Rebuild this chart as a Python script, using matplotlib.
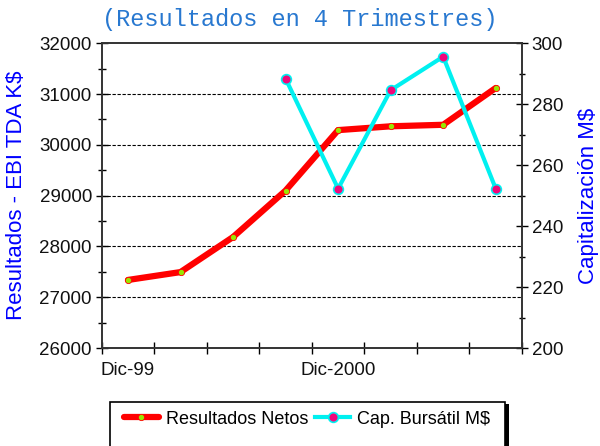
import numpy as np
import matplotlib
matplotlib.use("Agg")
import matplotlib.pyplot as plt
from matplotlib.patches import Rectangle
from matplotlib.ticker import MultipleLocator, FixedLocator, NullFormatter

periodos = ["Dic-99", "", "", "", "Dic-2000", "", "", ""]
resultados = [27340, 27495, 28185, 29100, 30290, 30365, 30395, 31120]
cap_bursatil = [np.nan, np.nan, np.nan, 288.4, 252.3, 284.6, 295.6, 252.3]

fuente = ["Liberation Sans", "DejaVu Sans"]

fig = plt.figure(figsize=(6, 4.46), dpi=100)
ax = fig.add_axes([0.1695, 0.2197, 0.7005, 0.6833])
ax2 = ax.twinx()

x = np.arange(len(resultados))
l1, = ax.plot(x, resultados, color="#ff0000", lw=4.5, marker="o", ms=4.5,
              mfc="#99e600", mec="#ff0000", mew=0.6, solid_capstyle="round",
              label="Resultados Netos", zorder=3)
l2, = ax2.plot(x, cap_bursatil, color="#00f0f0", lw=3, marker="o", ms=7,
               mfc="#f0087a", mec="#00f0f0", mew=1.2,
               label="Cap. Bursátil M$", zorder=3)

ax.set_xlim(-0.5, len(x) - 0.5)
ax.set_ylim(26000, 32000)
ax2.set_ylim(200, 300)

ax.xaxis.set_major_locator(FixedLocator(np.arange(-0.5, len(x), 1.0)))
ax.xaxis.set_major_formatter(NullFormatter())
ax.xaxis.set_minor_locator(FixedLocator(x))
ax.set_xticklabels(periodos, minor=True)
ax.tick_params(axis="x", which="major", direction="inout", length=9, width=1)
ax.tick_params(axis="x", which="minor", length=0, pad=10)

ax.yaxis.set_major_locator(MultipleLocator(1000))
ax.yaxis.set_minor_locator(MultipleLocator(500))
ax.tick_params(axis="y", which="major", direction="inout", length=8, width=1, pad=3)
ax.tick_params(axis="y", which="minor", direction="inout", length=6, width=1)
ax2.yaxis.set_major_locator(MultipleLocator(20))
ax2.yaxis.set_minor_locator(MultipleLocator(10))
ax2.tick_params(axis="y", which="major", direction="inout", length=8, width=1, pad=3)
ax2.tick_params(axis="y", which="minor", direction="inout", length=5, width=1)

for a in (ax, ax2):
    for lab in a.get_xticklabels(minor=True) + a.get_yticklabels():
        lab.set_family(fuente)
        lab.set_fontsize(13.5)
        lab.set_color("#111111")
    for sp in a.spines.values():
        sp.set_color("#333333")
        sp.set_linewidth(1.2)

for v in range(27000, 32000, 1000):
    ax.axhline(v, color="black", lw=0.8, ls=(0, (3, 1.5)), zorder=1)

ax.set_ylabel("Resultados - EBI TDA K$", color="blue", fontsize=16, family=fuente)
ax.yaxis.set_label_coords(-0.178, 0.5)
ax2.set_ylabel("Capitalización M$", color="blue", fontsize=16, family=fuente)
ax2.yaxis.set_label_coords(1.134, 0.5)

fig.text(0.5, 0.957, "(Resultados en 4 Trimestres)", ha="center", va="center",
         family=["Liberation Mono", "DejaVu Sans Mono"], fontsize=17, color="#2878d0")

# legend box runs past the bottom edge of the picture
fig.patches.append(Rectangle((0.1900, -0.2), 0.6583, 0.2993 - 0.005, transform=fig.transFigure,
                             facecolor="black", edgecolor="none", zorder=0))
fig.patches.append(Rectangle((0.1833, -0.2), 0.6583, 0.2993, transform=fig.transFigure,
                             facecolor="white", edgecolor="black", lw=1.2, zorder=1))
fig.legend(handles=[l1, l2], loc="center left", bbox_to_anchor=(0.180, 0.0605),
           ncol=2, frameon=False, handlelength=1.9, handletextpad=0.4,
           columnspacing=0.4, prop={"family": fuente, "size": 13})

fig.savefig("out.png", dpi=100)
